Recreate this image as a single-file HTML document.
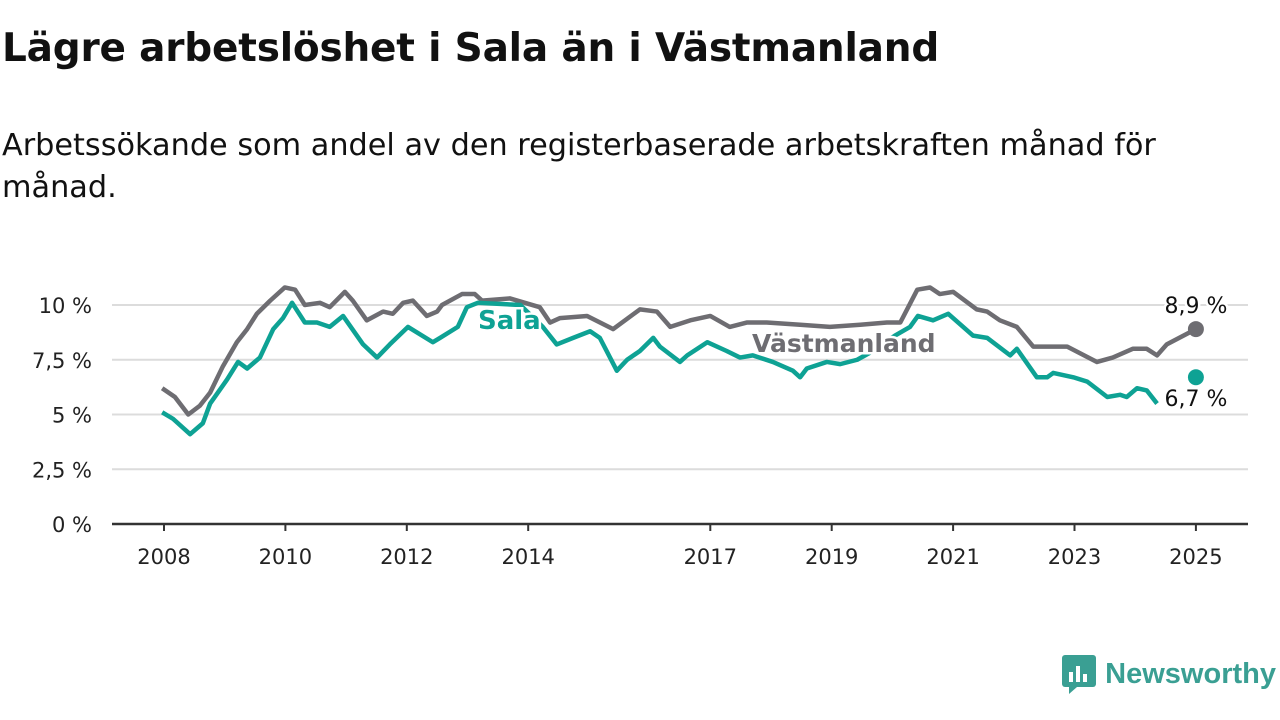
<!DOCTYPE html>
<html><head><meta charset="utf-8">
<style>
body{margin:0;width:1280px;height:720px;background:#fff;font-family:"Liberation Sans","DejaVu Sans",sans-serif;overflow:hidden;position:relative;color:#111}
h1{position:absolute;left:2px;top:26px;margin:0;font-family:"DejaVu Sans",sans-serif;font-size:39px;font-weight:bold;letter-spacing:-0.2px}
p.sub{position:absolute;left:2px;top:125px;margin:0;font-family:"DejaVu Sans",sans-serif;font-size:30.3px;line-height:42px;width:1200px}
svg{position:absolute;left:0;top:0}
.logo{position:absolute;right:4px;top:654px;display:flex;align-items:center;color:#3a9f93;font-weight:bold;font-size:29px}
</style></head><body>
<h1>Lägre arbetslöshet i Sala än i Västmanland</h1>
<p class="sub">Arbetssökande som andel av den registerbaserade arbetskraften månad för månad.</p>
<svg id="chart" width="1280" height="720"></svg>
<div class="logo">
<svg width="36" height="40" style="position:static;margin-right:8px"><rect x="1" y="1" width="34" height="32" rx="3" fill="#3a9f93"/><polygon points="8,33 16,33 8,40" fill="#3a9f93"/><rect x="8" y="18" width="4" height="10" fill="#fff"/><rect x="15" y="12" width="4" height="16" fill="#fff"/><rect x="22" y="20" width="4" height="8" fill="#fff"/></svg>Newsworthy</div>
<script>
const yTicks=[0,2.5,5,7.5,10];
const yTickLabels=["0 %","2,5 %","5 %","7,5 %","10 %"];
const xTicks=[2008,2010,2012,2014,2017,2019,2021,2023,2025];
const vastYears=[2007.97,2008.18,2008.40,2008.59,2008.76,2008.97,2009.20,2009.37,2009.53,2009.75,2009.99,2010.16,2010.32,2010.57,2010.73,2010.98,2011.11,2011.34,2011.61,2011.77,2011.94,2012.10,2012.33,2012.50,2012.58,2012.91,2013.12,2013.24,2013.70,2014.19,2014.36,2014.52,2014.97,2015.40,2015.84,2016.12,2016.34,2016.67,2017.0,2017.32,2017.60,2017.93,2018.48,2018.97,2019.47,2019.91,2020.13,2020.41,2020.62,2020.78,2021.0,2021.39,2021.56,2021.77,2022.05,2022.32,2022.88,2023.37,2023.63,2023.96,2024.19,2024.36,2024.52,2025.0];
const vastValues=[6.2,5.8,5.0,5.4,6.0,7.2,8.3,8.9,9.6,10.2,10.8,10.7,10.0,10.1,9.9,10.6,10.2,9.3,9.7,9.6,10.1,10.2,9.5,9.7,10.0,10.5,10.5,10.2,10.3,9.9,9.2,9.4,9.5,8.9,9.8,9.7,9.0,9.3,9.5,9.0,9.2,9.2,9.1,9.0,9.1,9.2,9.2,10.7,10.8,10.5,10.6,9.8,9.7,9.3,9.0,8.1,8.1,7.4,7.6,8.0,8.0,7.7,8.2,8.9];
const salaYears=[2007.97,2008.15,2008.43,2008.64,2008.76,2009.04,2009.22,2009.37,2009.58,2009.80,2009.96,2010.11,2010.32,2010.52,2010.73,2010.95,2011.28,2011.51,2011.72,2012.02,2012.43,2012.55,2012.84,2012.99,2013.17,2013.87,2014.24,2014.47,2014.74,2015.02,2015.18,2015.46,2015.63,2015.84,2016.06,2016.17,2016.50,2016.62,2016.95,2017.27,2017.49,2017.70,2018.03,2018.36,2018.48,2018.59,2018.92,2019.14,2019.42,2019.68,2020.04,2020.29,2020.42,2020.67,2020.92,2021.33,2021.56,2021.94,2022.05,2022.38,2022.55,2022.65,2022.98,2023.21,2023.54,2023.75,2023.86,2024.03,2024.19,2024.36];
const salaValues=[5.1,4.8,4.1,4.6,5.5,6.6,7.4,7.1,7.6,8.9,9.4,10.1,9.2,9.2,9.0,9.5,8.2,7.6,8.2,9.0,8.3,8.5,9.0,9.9,10.1,10.0,9.0,8.2,8.5,8.8,8.5,7.0,7.5,7.9,8.5,8.1,7.4,7.7,8.3,7.9,7.6,7.7,7.4,7.0,6.7,7.1,7.4,7.3,7.5,7.9,8.6,9.0,9.5,9.3,9.6,8.6,8.5,7.7,8.0,6.7,6.7,6.9,6.7,6.5,5.8,5.9,5.8,6.2,6.1,5.5];
const salaLast=6.7, vastLast=8.9, lastYear=2025;

const NS="http://www.w3.org/2000/svg";
const svg=document.getElementById('chart');
const xS=y=>164+(y-2008)*60.7;
const yS=v=>524-v*21.9;
function mk(t,a){const e=document.createElementNS(NS,t);for(const k in a)e.setAttribute(k,a[k]);svg.appendChild(e);return e;}
yTicks.forEach((t,i)=>{
  if(t>0){const g=mk('line',{x1:112,x2:1248,y1:yS(t),y2:yS(t),stroke:'#dcdcdc','stroke-width':2});
  
  }
  const l=mk('text',{x:92,y:yS(t)+8,'text-anchor':'end','font-size':21,'font-family':'DejaVu Sans, sans-serif',fill:'#222'});
  l.textContent=yTickLabels[i];
  
  
});
const ax=mk('line',{x1:112,x2:1248,y1:524,y2:524,stroke:'#333','stroke-width':2.5});


xTicks.forEach(t=>{
  const tk=mk('line',{x1:xS(t),x2:xS(t),y1:524,y2:531,stroke:'#333','stroke-width':2});
  
  
  const l=mk('text',{x:xS(t),y:564,'text-anchor':'middle','font-size':21,'font-family':'DejaVu Sans, sans-serif',fill:'#222'});
  l.textContent=t;
  
  
});
function line(xs,vs,c,name){
  const p=mk('polyline',{points:xs.map((x,i)=>xS(x)+','+yS(vs[i])).join(' '),fill:'none',stroke:c,'stroke-width':4.5,'stroke-linejoin':'round'});
  
  
}
line(vastYears,vastValues,'#6e6d72','vastmanland-line');
line(salaYears,salaValues,'#0ea294','sala-line');
const d1=mk('circle',{cx:xS(lastYear),cy:yS(vastLast),r:8,fill:'#6e6d72'});


const d2=mk('circle',{cx:xS(lastYear),cy:yS(salaLast),r:8,fill:'#0ea294'});


function lab(x,y,txt,c,sz,w,name,anchor){
  const t=mk('text',{x:x,y:y,fill:c,'font-size':sz,'font-weight':w,'font-family':'DejaVu Sans, sans-serif',stroke:'#fff','stroke-width':5,'paint-order':'stroke','text-anchor':anchor||'start'});
  t.textContent=txt;
  
  
}
lab(478,329,'Sala','#0ea294',26,'bold','sala-label');
lab(752,352,'Västmanland','#6e6d72',25,'bold','vastmanland-label');
lab(1196,313,'8,9 %','#111',22,'normal','vastmanland-value-label','middle');
lab(1196,406,'6,7 %','#111',22,'normal','sala-value-label','middle');
</script>
</body></html>
